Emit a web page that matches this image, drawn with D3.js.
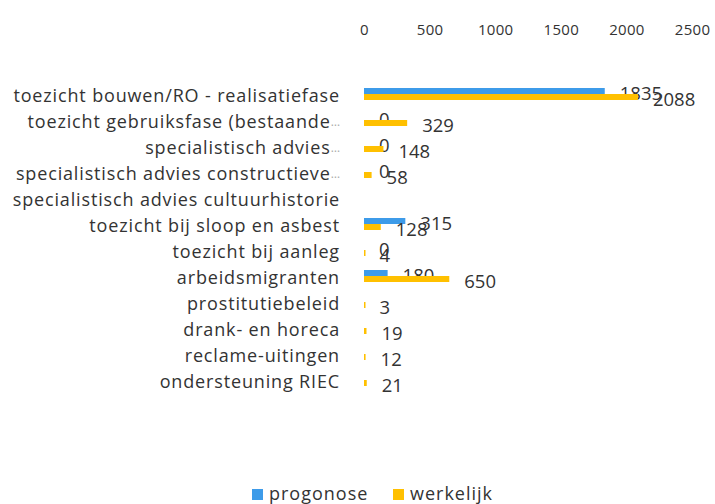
<!DOCTYPE html>
<html><head><meta charset="utf-8">
<script src="https://cdn.jsdelivr.net/npm/d3@7"></script>
<style>
body{margin:0;background:#fff;}
text{font-family:"Open Sans",Lato,sans-serif;fill:#333;}
</style></head>
<body><svg id="c" width="715" height="504"></svg>
<script>
const categories = [
  "toezicht bouwen/RO - realisatiefase",
  "toezicht gebruiksfase (bestaande…",
  "specialistisch advies…",
  "specialistisch advies constructieve…",
  "specialistisch advies cultuurhistorie",
  "toezicht bij sloop en asbest",
  "toezicht bij aanleg",
  "arbeidsmigranten",
  "prostitutiebeleid",
  "drank- en horeca",
  "reclame-uitingen",
  "ondersteuning RIEC"
];
const progonose = [1835, 0, 0, 0, null, 315, 0, 180, null, null, null, null];
const werkelijk = [2088, 329, 148, 58, null, 128, 4, 650, 3, 19, 12, 21];
const tickValues = [0, 500, 1000, 1500, 2000, 2500];
const seriesNames = ["progonose", "werkelijk"];
const colors = ["#3d9be9", "#ffc000"];

const svg = d3.select("#c");
const x = d3.scaleLinear().domain([0, 2500]).range([364, 692]);
const y = d3.scaleBand().domain(categories).range([82, 394]);

// top axis
const ax = svg.append("g").attr("transform", "translate(0,35)")
  .call(d3.axisTop(x).tickValues(tickValues).tickSize(0).tickPadding(0).tickFormat(d3.format("d")));
ax.select(".domain").remove();
ax.selectAll("text").style("font-size", "15px").style("font-family", "'Open Sans',sans-serif")
  .style("letter-spacing", "0.3px").attr("fill", "#333");

// category labels
const cat = svg.append("g");
categories.forEach(c => {
  const t = cat.append("text").attr("x", 340).attr("y", y(c) + y.bandwidth()/2)
    .attr("text-anchor", "end").attr("dominant-baseline", "central")
    .style("font-size", "18px").style("letter-spacing", "0.85px");
  if (c.endsWith("…")) {
    t.append("tspan").text(c.slice(0, -1));
    t.append("tspan").attr("fill", "#aaa").style("font-size", "12px").style("letter-spacing", "0px").text("…");
  } else t.text(c);
});

const series = [progonose, werkelijk];
series.forEach((vals, si) => {
  const g = svg.append("g");
  vals.forEach((v, i) => {
    if (v === null) return;
    const c = y(categories[i]) + y.bandwidth()/2;
    const by = si === 0 ? c - 7 : c - 1;
    if (v > 0) g.append("rect").attr("x", x(0)).attr("y", by)
      .attr("width", Math.max(x(v) - x(0), 1.5)).attr("height", 6).attr("fill", colors[si]);
    g.append("text").attr("x", x(v) + 15).attr("y", si === 0 ? c - 3 : c + 3)
      .attr("dominant-baseline", "central").style("font-size", "18.5px").text(v);
  });
});

// legend
const leg = svg.append("g");
const lx = [252, 393];
seriesNames.forEach((n, i) => {
  leg.append("rect").attr("x", lx[i]).attr("y", 489).attr("width", 11).attr("height", 11).attr("fill", colors[i]);
  leg.append("text").attr("x", lx[i] + 17).attr("y", 493).attr("dominant-baseline", "central")
    .style("font-size", "18px").style("letter-spacing", "1px").text(n);
});
</script></body></html>
